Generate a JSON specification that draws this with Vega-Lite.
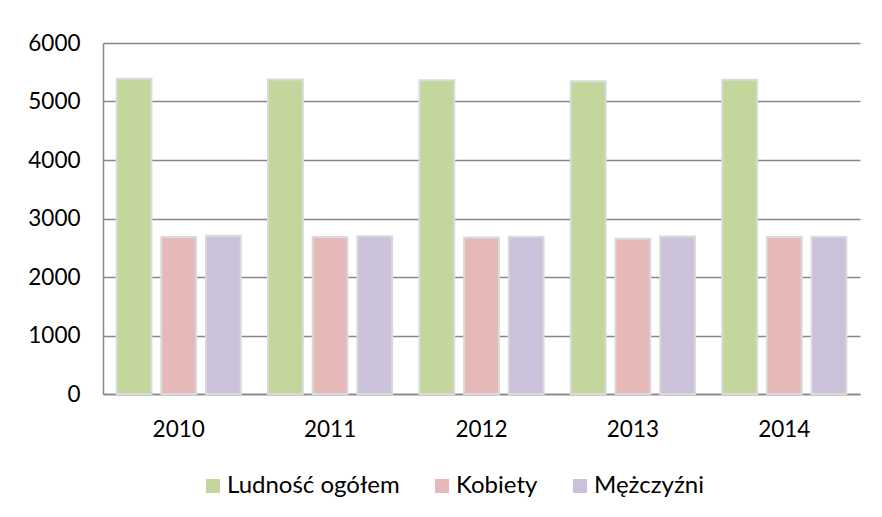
{
  "$schema": "https://vega.github.io/schema/vega-lite/v6.json",
  "autosize": {"type": "none"},
  "width": 757,
  "height": 351,
  "padding": {"left": 103, "top": 43, "right": 22, "bottom": 123},
  "background": "white",
  "config": {
    "font": "Lato",
    "view": {"stroke": null},
    "axis": {"labelFont": "Lato", "labelColor": "#000000", "labelFontSize": 22.5, "ticks": false, "title": null}
  },
  "data": {
    "values": [
      {"rok": "2010", "seria": "Ludność ogółem", "wartosc": 5390},
      {"rok": "2010", "seria": "Kobiety", "wartosc": 2685},
      {"rok": "2010", "seria": "Mężczyźni", "wartosc": 2705},
      {"rok": "2011", "seria": "Ludność ogółem", "wartosc": 5375},
      {"rok": "2011", "seria": "Kobiety", "wartosc": 2682},
      {"rok": "2011", "seria": "Mężczyźni", "wartosc": 2695},
      {"rok": "2012", "seria": "Ludność ogółem", "wartosc": 5365},
      {"rok": "2012", "seria": "Kobiety", "wartosc": 2675},
      {"rok": "2012", "seria": "Mężczyźni", "wartosc": 2690},
      {"rok": "2013", "seria": "Ludność ogółem", "wartosc": 5345},
      {"rok": "2013", "seria": "Kobiety", "wartosc": 2655},
      {"rok": "2013", "seria": "Mężczyźni", "wartosc": 2692},
      {"rok": "2014", "seria": "Ludność ogółem", "wartosc": 5372},
      {"rok": "2014", "seria": "Kobiety", "wartosc": 2682},
      {"rok": "2014", "seria": "Mężczyźni", "wartosc": 2690}
    ]
  },
  "mark": {"type": "bar", "stroke": "#dadada", "strokeWidth": 2},
  "encoding": {
    "x": {
      "field": "rok", "type": "nominal",
      "scale": {"paddingInner": 0.18, "paddingOuter": 0.09},
      "axis": {"labelAngle": 0, "labelPadding": 24, "domainColor": "#878787", "domainWidth": 1.5, "grid": false}
    },
    "xOffset": {
      "field": "seria", "type": "nominal",
      "sort": ["Ludność ogółem", "Kobiety", "Mężczyźni"],
      "scale": {"paddingInner": 0.22, "paddingOuter": 0}
    },
    "y": {
      "field": "wartosc", "type": "quantitative",
      "scale": {"domain": [0, 6000], "nice": false},
      "axis": {"values": [0, 1000, 2000, 3000, 4000, 5000, 6000], "format": "d", "labelPadding": 23, "domainColor": "#878787", "domainWidth": 1.5, "gridColor": "#878787", "gridWidth": 1.4, "gridOpacity": 1}
    },
    "color": {
      "field": "seria", "type": "nominal",
      "sort": ["Ludność ogółem", "Kobiety", "Mężczyźni"],
      "scale": {"domain": ["Ludność ogółem", "Kobiety", "Mężczyźni"], "range": ["#c3d69b", "#e6b9b8", "#ccc1da"]},
      "legend": {
        "title": null, "orient": "none", "direction": "horizontal",
        "legendX": 98, "legendY": 431,
        "symbolType": "square", "symbolSize": 196, "symbolStrokeWidth": 0,
        "labelFont": "Lato", "labelFontSize": 24, "labelColor": "#000000", "labelOffset": 2, "labelLimit": 400,
        "columnPadding": 30, "padding": 0
      }
    }
  }
}
